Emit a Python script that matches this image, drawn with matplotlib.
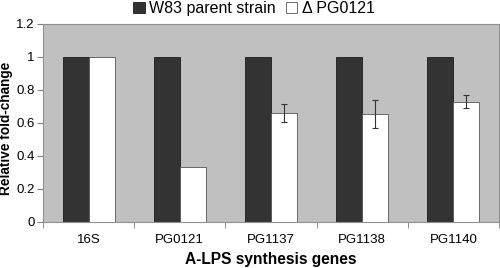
import matplotlib
matplotlib.use("Agg")
import matplotlib.pyplot as plt
import numpy as np

plt.rcParams['font.family'] = ['Liberation Sans', 'DejaVu Sans']

genes = ["16S", "PG0121", "PG1137", "PG1138", "PG1140"]
parent = [1.0, 1.0, 1.0, 1.0, 1.0]
mutant = [1.0, 0.333, 0.659, 0.652, 0.728]
mutant_err = [0.0, 0.0, 0.055, 0.085, 0.038]

fig = plt.figure(figsize=(5.0, 2.68), dpi=100)
ax = fig.add_axes([0.086, 0.172, 0.912, 0.740])

x = np.arange(len(genes))
w = 1 / 3.5
ax.bar(x - w / 2, parent, w, color="#333333", edgecolor="#1a1a1a", linewidth=0.6,
       label="W83 parent strain", zorder=2)
err = [e if e > 0 else np.nan for e in mutant_err]
ax.bar(x + w / 2, mutant, w, color="white", edgecolor="#555555", linewidth=0.6,
       label="\u0394 PG0121", zorder=2)
ax.errorbar(x + w / 2, mutant, yerr=err, fmt="none", ecolor="#333333",
            elinewidth=0.8, capsize=2.5, capthick=0.8, zorder=3)

ax.set_facecolor("#c0c0c0")
ax.set_xlim(-0.5, len(genes) - 0.5)
ax.set_ylim(0, 1.2)
ax.set_yticks([0, 0.2, 0.4, 0.6, 0.8, 1.0, 1.2])
ax.set_yticklabels(["0", "0.2", "0.4", "0.6", "0.8", "1", "1.2"], fontsize=9.5)
ax.set_xticks(x)
ax.set_xticklabels(genes, fontsize=9.5)
ax.tick_params(axis="x", length=0, pad=9)
ax.set_xticks(np.arange(-0.5, len(genes)), minor=True)
ax.tick_params(axis="x", which="minor", length=4, color="#808080", direction="out")
ax.tick_params(axis="y", length=4, color="#808080", direction="out", pad=2)
for s in ax.spines.values():
    s.set_color("#909090")
    s.set_linewidth(0.8)

ax.set_ylabel("Relative fold-change", fontsize=9.8, fontweight="bold", labelpad=3)
ax.yaxis.set_label_coords(-0.066, 0.47)
ax.set_xlabel("A-LPS synthesis genes", fontsize=11.2, fontweight="bold", labelpad=4)

leg = fig.legend(loc="upper center", bbox_to_anchor=(0.508, 1.05), ncol=2,
                 frameon=False, fontsize=11.5, handlelength=0.7, handleheight=0.7,
                 handletextpad=0.3, columnspacing=0.6)

fig.savefig("out.png", dpi=100)
